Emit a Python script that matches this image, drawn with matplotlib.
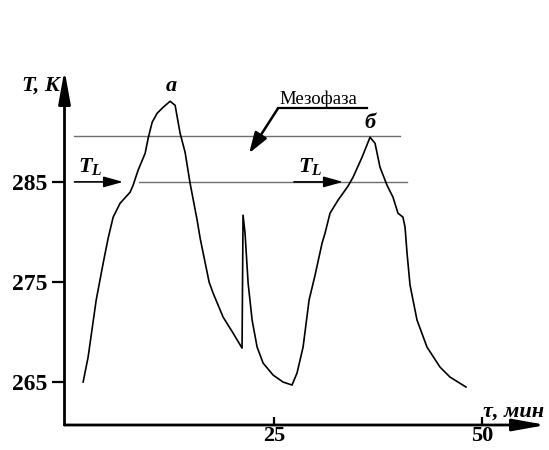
import matplotlib
matplotlib.use("Agg")
import matplotlib.pyplot as plt

plt.rcParams['font.family'] = ['Liberation Serif', 'DejaVu Serif']
plt.rcParams['mathtext.fontset'] = 'custom'
plt.rcParams['mathtext.it'] = 'Liberation Serif:italic:bold'
plt.rcParams['mathtext.rm'] = 'Liberation Serif:bold'

# time, min
tau = [2.04, 2.64, 3.61, 4.45, 5.05, 5.65, 6.49, 7.69, 8.05, 8.65,
       9.50, 9.86, 10.34, 10.94, 11.66, 12.50, 13.10, 13.70, 14.30, 14.90,
       15.75, 16.11, 17.19, 17.67, 18.87, 20.07, 21.15, 21.27, 21.51, 21.88,
       22.36, 22.96, 23.68, 24.88, 26.08, 27.16, 27.76, 28.49, 29.21, 29.93,
       30.77, 31.13, 31.73, 32.69, 33.89, 34.50, 35.58, 36.54, 37.14, 37.74,
       38.58, 39.30, 39.90, 40.50, 40.75, 40.99, 41.35, 42.19, 43.39, 44.95,
       46.15, 48.08]
# temperature, K
temp = [264.97, 267.47, 273.17, 276.87, 279.37, 281.47, 282.87, 283.97, 284.67, 286.17,
        287.87, 289.37, 290.97, 291.87, 292.47, 293.07, 292.67, 289.87, 287.97, 284.87,
        281.17, 279.37, 274.97, 273.87, 271.47, 269.87, 268.37, 281.67, 279.87, 274.87,
        271.17, 268.47, 266.87, 265.67, 264.97, 264.67, 265.87, 268.47, 273.17, 275.67,
        278.87, 279.87, 281.87, 283.17, 284.57, 285.47, 287.47, 289.47, 288.87, 286.47,
        284.67, 283.47, 281.87, 281.47, 280.47, 277.87, 274.67, 271.17, 268.47, 266.47,
        265.47, 264.47]

T_liquid = 285.0     # T_L
T_meso_top = 289.6   # upper boundary of mesophase
x_ticks = [25, 50]
y_ticks = [265, 275, 285]

W, H = 549, 450
fig = plt.figure(figsize=(W / 100, H / 100), dpi=100, facecolor='w')
ax = fig.add_axes([64.5 / W, 25 / H, (546 - 64.5) / W, (425 - 70) / H])
ax.set_xlim(-0.2, 57.7)
ax.set_ylim(260.67, 296.2)
for s in ax.spines.values():
    s.set_visible(False)

# axes with arrow heads
arrow_kw = dict(arrowstyle='-|>,head_length=1.0,head_width=0.18',
                lw=2.0, color='k', mutation_scale=20, shrinkA=0, shrinkB=0)
ax.annotate('', xy=(1, 0), xytext=(0, 0), xycoords='axes fraction', arrowprops=arrow_kw)
ax.annotate('', xy=(0, 1), xytext=(0, 0), xycoords='axes fraction', arrowprops=arrow_kw)

ax.set_xticks(x_ticks)
ax.set_yticks(y_ticks)
ax.tick_params(axis='y', direction='out', length=9.5, width=1.6, pad=2.5, labelsize=17)
ax.tick_params(axis='x', direction='in', length=6, width=1.6, pad=0.5, labelsize=16)
for lab in ax.get_xticklabels() + ax.get_yticklabels():
    lab.set_fontweight('bold')

# mesophase boundaries
gray = '#6e6e6e'
ax.plot([1.0, 40.1], [T_meso_top, T_meso_top], color=gray, lw=1.0)
ax.plot([8.8, 41.0], [T_liquid, T_liquid], color=gray, lw=1.0)

# T_L arrows
tl_kw = dict(arrowstyle='-|>,head_length=0.9,head_width=0.25',
             lw=1.2, color='k', mutation_scale=13, shrinkA=0, shrinkB=0)
ax.annotate('', xy=(6.85, T_liquid), xytext=(1.0, T_liquid), arrowprops=tl_kw)
ax.annotate('', xy=(33.3, T_liquid), xytext=(27.4, T_liquid), arrowprops=tl_kw)
ax.text(1.4, 285.5, r'$T_L$', fontsize=16, ha='left', va='bottom')
ax.text(27.9, 285.5, r'$T_L$', fontsize=16, ha='left', va='bottom')

# temperature curve
ax.plot(tau, temp, color='k', lw=1.2)

ax.text(12.7, 293.6, 'a', fontsize=16, fontweight='bold', fontstyle='italic',
        ha='center', va='bottom')
ax.text(36.5, 289.9, 'б', fontsize=16, fontweight='bold', fontstyle='italic',
        ha='center', va='bottom')

# mesophase label with leader
ax.text(25.7, 292.75, 'Мезофаза', fontsize=13.5, ha='left', va='baseline')
ax.plot([25.48, 36.18], [292.37, 292.37], color='k', lw=1.6)
ax.annotate('', xy=(22.0, 287.87), xytext=(25.48, 292.37),
            arrowprops=dict(arrowstyle='-|>,head_length=0.9,head_width=0.3',
                            lw=1.8, color='k', mutation_scale=14,
                            shrinkA=0, shrinkB=0))

# axis titles
fig.text(60 / W, 1 - 91 / H, 'T, K', fontsize=16, fontweight='bold',
         fontstyle='italic', ha='right', va='baseline')
fig.text(483 / W, 1 - 417 / H, 'τ, мин', fontsize=16, fontweight='bold',
         fontstyle='italic', ha='left', va='baseline')

fig.savefig('out.png', dpi=100)
